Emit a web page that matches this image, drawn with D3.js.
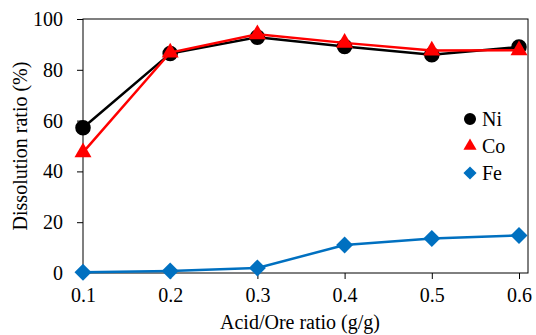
<!DOCTYPE html>
<html>
<head>
<script src="https://d3js.org/d3.v7.min.js"></script>
</head>
<body style="margin:0">
<svg id="chart" width="536" height="335"></svg>
<script>
// data
var ratios = [0.1, 0.2, 0.3, 0.4, 0.5, 0.6]
var niValues = [57.2, 86.4, 92.8, 89.2, 85.9, 89.0]
var coValues = [47.5, 86.8, 94.0, 90.6, 87.6, 87.7]
var feValues = [0.3, 0.8, 2.0, 11.0, 13.6, 14.8]
var yTicks = [0, 20, 40, 60, 80, 100]

var width = 536, height = 335
var margin = {top: 19, right: 8, bottom: 62, left: 83}
var serif = "Liberation Serif"
var fontSize = 20

var svg = d3.select("#chart")

var x = d3.scaleLinear()
    .domain([0.1, 0.6])
    .range([margin.left, 519])

var y = d3.scaleLinear()
    .domain([0, 100])
    .range([273, margin.top])

// frame
svg.append("rect")
    .attr("x", margin.left)
    .attr("y", margin.top)
    .attr("width", width - margin.right - margin.left)
    .attr("height", y(0) - margin.top)
    .attr("fill", "none")
    .attr("stroke", "#000")
    .attr("stroke-width", 1)

// axes
var xAxis = svg.append("g")
    .attr("transform", "translate(0," + y(0) + ")")
    .call(d3.axisBottom(x).tickValues(ratios).tickFormat(d3.format(".1f")).tickSize(6).tickPadding(9))
var yAxis = svg.append("g")
    .attr("transform", "translate(" + margin.left + ",0)")
    .call(d3.axisLeft(y).tickValues(yTicks).tickSize(6).tickPadding(14))

;[xAxis, yAxis].forEach(function (g) {
    g.attr("font-family", serif).attr("font-size", fontSize)
    g.select(".domain").remove()
    g.selectAll("line").attr("stroke", "#000")
    g.selectAll("text")
        .attr("font-family", serif)
        .attr("font-size", fontSize)
        .attr("fill", "#000")
})

// axis titles
svg.append("text")
    .attr("x", 300)
    .attr("y", 329)
    .attr("text-anchor", "middle")
    .attr("font-family", serif)
    .attr("font-size", fontSize)
    .text("Acid/Ore ratio (g/g)")

svg.append("text")
    .attr("transform", "translate(27,146) rotate(-90)")
    .attr("text-anchor", "middle")
    .attr("font-family", serif)
    .attr("font-size", fontSize)
    .text("Dissolution ratio (%)")

var series = [
    {name: "Ni", values: niValues, color: "#000000", symbol: d3.symbolCircle, size: 190, rot: 0},
    {name: "Co", values: coValues, color: "#ff0000", symbol: d3.symbolTriangle, size: 125, rot: 0},
    {name: "Fe", values: feValues, color: "#0070c0", symbol: d3.symbolSquare, size: 144, rot: 45}
]

var line = d3.line()
    .x(function (d, i) { return x(ratios[i]) })
    .y(function (d) { return y(d) })

// draw Fe first, then Ni, then Co on top
;[series[2], series[0], series[1]].forEach(function (s) {
    svg.append("path")
        .datum(s.values)
        .attr("d", line)
        .attr("fill", "none")
        .attr("stroke", s.color)
        .attr("stroke-width", 2.5)

    svg.selectAll(null)
        .data(s.values)
        .enter()
        .append("path")
        .attr("d", d3.symbol().type(s.symbol).size(s.size))
        .attr("transform", function (d, i) { return "translate(" + x(ratios[i]) + "," + y(d) + ") rotate(" + s.rot + ")" })
        .attr("fill", s.color)
})

// legend
var legend = svg.append("g")
    .attr("transform", "translate(470,119)")

series.forEach(function (s, i) {
    var row = legend.append("g")
        .attr("transform", "translate(0," + (i * 27) + ")")
    row.append("path")
        .attr("d", d3.symbol().type(s.symbol).size(s.size * 0.6))
        .attr("transform", "rotate(" + s.rot + ")")
        .attr("fill", s.color)
    row.append("text")
        .attr("x", 12)
        .attr("y", 7)
        .attr("font-family", serif)
        .attr("font-size", fontSize)
        .text(s.name)
})
</script>
</body>
</html>
